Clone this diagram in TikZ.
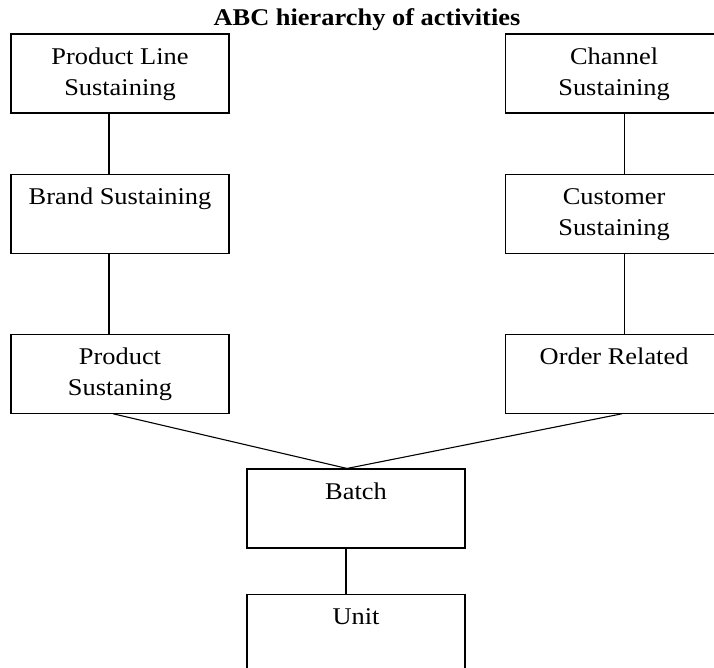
\documentclass[tikz,border=0pt]{standalone}
\usepackage{fontspec}
\setmainfont{Liberation Serif}[FakeStretch=1.1]
\usetikzlibrary{positioning}

\begin{document}
\begin{tikzpicture}[
      x=1pt, y=-1pt,
      node distance=60pt,
      level/.style={draw, line width=1.1pt, minimum width=218pt, minimum height=79pt, align=center, inner sep=0pt, font=\fontsize{24}{31}\selectfont},
      link/.style={line width=1.1pt}
    ]
    \useasboundingbox (0,0) rectangle (714,668);
    \clip (0,0) rectangle (714,668);
    \node[font=\fontsize{24}{31}\selectfont\bfseries, anchor=base] (title) at (367,26) {ABC hierarchy of activities};

    \node[level] (plsus) at (120,73.5) {\strut Product Line\\\strut Sustaining};
    \node[level, below=of plsus] (brand) {\strut Brand Sustaining\\\strut};
    \node[level, below=80pt of brand] (prodsus) {\strut Product\\\strut Sustaning};
    \node[level, right=275pt of plsus] (chansus) {\strut Channel\\\strut Sustaining};
    \node[level, below=of chansus] (custsus) {\strut Customer\\\strut Sustaining};
    \node[level, below=80pt of custsus] (order) {\strut Order Related\\\strut};
    \node[level] (batch) at (356,508.5) {\strut Batch\\\strut};
    \node[level, below=45pt of batch] (unit) {\strut Unit\\\strut};

    \draw[link] ([xshift=-11pt]plsus.south) -- ([xshift=-11pt]brand.north);
    \draw[link] ([xshift=-11pt]brand.south) -- ([xshift=-11pt]prodsus.north);
    \draw[link] ([xshift=10pt]chansus.south) -- ([xshift=10pt]custsus.north);
    \draw[link] ([xshift=10pt]custsus.south) -- ([xshift=10pt]order.north);
    \draw[link] ([xshift=-7pt]prodsus.south) -- ([xshift=-9pt]batch.north);
    \draw[link] ([xshift=8pt]order.south) -- ([xshift=-9pt]batch.north);
    \draw[link] ([xshift=-10pt]batch.south) -- ([xshift=-10pt]unit.north);
  \end{tikzpicture}
\end{document}
